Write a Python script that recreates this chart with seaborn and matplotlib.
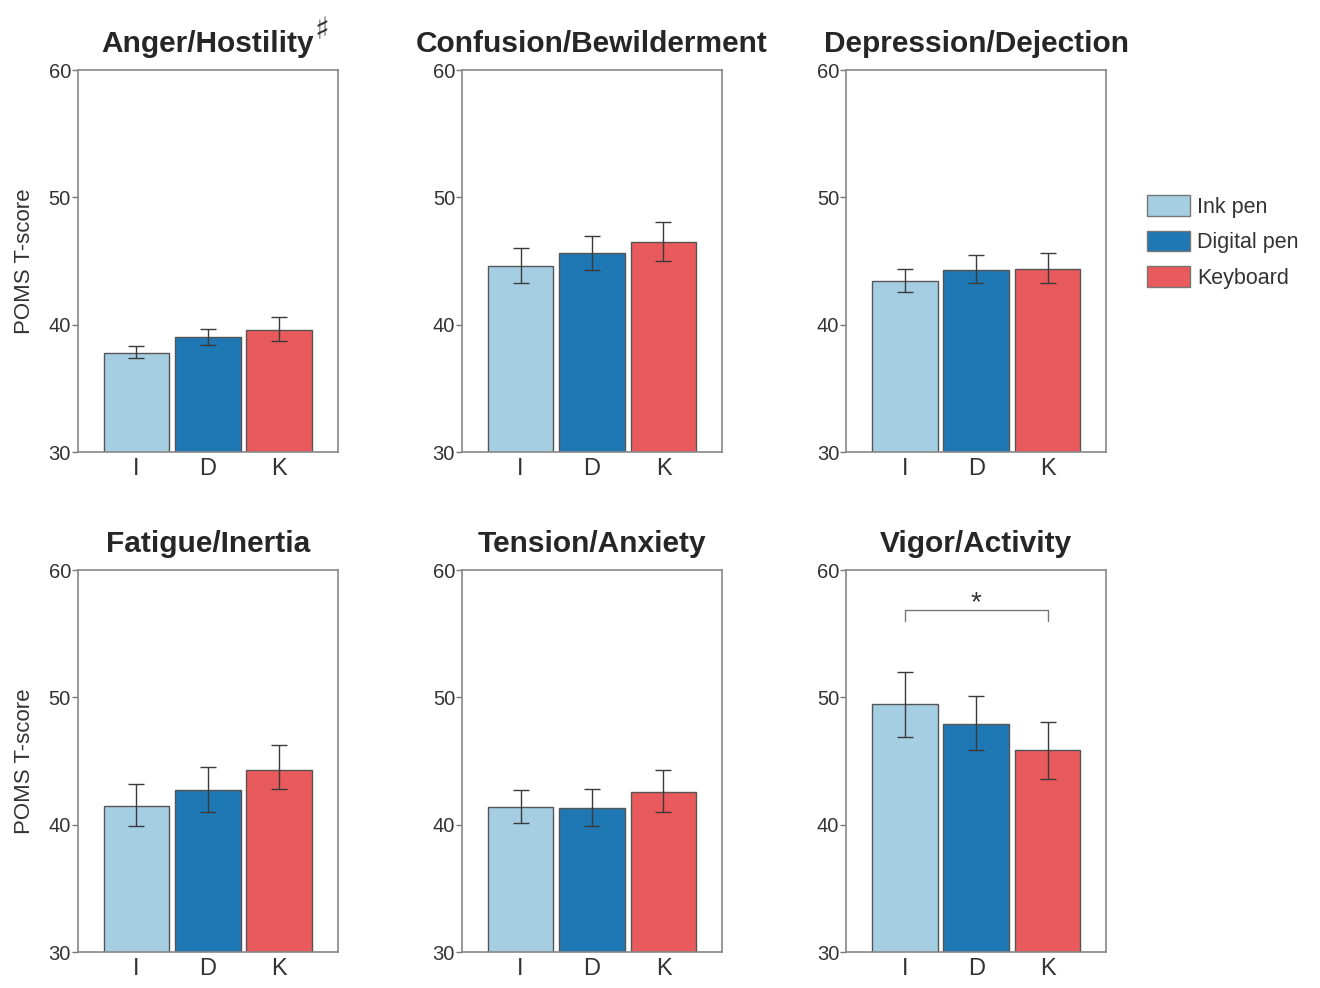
import numpy as np
import pandas as pd
import matplotlib
matplotlib.use("Agg")
import matplotlib.pyplot as plt
from matplotlib.patches import Patch
import seaborn as sns

# data (means and error bar ends)
scales = ["Anger/Hostility", "Confusion/Bewilderment", "Depression/Dejection",
          "Fatigue/Inertia", "Tension/Anxiety", "Vigor/Activity"]
conditions = ["I", "D", "K"]
legend_labels = ["Ink pen", "Digital pen", "Keyboard"]

means = {
    "Anger/Hostility": [37.8, 39.0, 39.6],
    "Confusion/Bewilderment": [44.6, 45.6, 46.5],
    "Depression/Dejection": [43.4, 44.3, 44.4],
    "Fatigue/Inertia": [41.5, 42.7, 44.3],
    "Tension/Anxiety": [41.4, 41.3, 42.6],
    "Vigor/Activity": [49.5, 47.9, 45.9],
}
err_lo = {
    "Anger/Hostility": [37.4, 38.4, 38.7],
    "Confusion/Bewilderment": [43.3, 44.3, 45.0],
    "Depression/Dejection": [42.6, 43.3, 43.3],
    "Fatigue/Inertia": [39.9, 41.0, 42.8],
    "Tension/Anxiety": [40.1, 39.9, 41.0],
    "Vigor/Activity": [46.9, 45.9, 43.6],
}
err_hi = {
    "Anger/Hostility": [38.3, 39.7, 40.6],
    "Confusion/Bewilderment": [46.0, 47.0, 48.1],
    "Depression/Dejection": [44.4, 45.5, 45.6],
    "Fatigue/Inertia": [43.2, 44.5, 46.3],
    "Tension/Anxiety": [42.7, 42.8, 44.3],
    "Vigor/Activity": [52.0, 50.1, 48.1],
}
marks = {"Anger/Hostility": "\u266f"}
sig_level = 56.9

colors = ["#a6cee3", "#1f78b4", "#e85a5b"]

sns.set_style("white")
plt.rcParams["font.family"] = ["Liberation Sans", "DejaVu Sans"]

fig = plt.figure(figsize=(13.2, 9.88), dpi=100)
fig.patch.set_facecolor("white")

lefts = [0.059, 0.350, 0.641]
bottoms = [0.5425, 0.0364]
w, h = 0.197, 0.3866

for i, sc in enumerate(scales):
    r, c = divmod(i, 3)
    ax = fig.add_axes([lefts[c], bottoms[r], w, h])
    df = pd.DataFrame({"cond": conditions, "score": means[sc]})
    sns.barplot(data=df, x="cond", y="score", hue="cond", palette=colors,
                order=conditions, errorbar=None, width=0.92, legend=False,
                saturation=1, edgecolor="#555555", linewidth=1.0, ax=ax)
    m = np.array(means[sc])
    lo = m - np.array(err_lo[sc])
    hi = np.array(err_hi[sc]) - m
    ax.errorbar(np.arange(3), m, yerr=[lo, hi], fmt="none", ecolor="#3a3a3a",
                elinewidth=1.0, capsize=6, capthick=1.0)
    ax.set_ylim(30, 60)
    ax.set_xlim(-0.82, 2.82)
    ax.set_yticks([30, 40, 50, 60])
    ax.set_xlabel("")
    ax.set_ylabel("POMS T-score" if c == 0 else "", fontsize=16, color="#333333",
                  labelpad=10)
    ax.tick_params(axis="y", left=True, length=4, width=1, color="#777777",
                   labelsize=14.5, labelcolor="#333333", pad=1)
    ax.tick_params(axis="x", bottom=False, labelsize=17, labelcolor="#333333", pad=1)
    for s in ax.spines.values():
        s.set_color("#888888")
        s.set_linewidth(1.2)
    t = ax.set_title(sc, fontsize=21.5, fontweight="bold", pad=13)
    if sc in marks:
        ax.annotate(marks[sc], xy=(1.0, 0.45), xycoords=t, xytext=(0, 0),
                    textcoords="offset points", ha="left", va="bottom",
                    fontsize=22, color="#333333", family="DejaVu Sans")
    if sc == "Vigor/Activity":
        ax.plot([0, 0, 2, 2], [sig_level - 0.9, sig_level, sig_level, sig_level - 0.9],
                color="#777777", lw=1.0)
        ax.text(1, sig_level - 0.5, "*", ha="center", va="bottom", fontsize=20,
                color="#333333")

handles = [Patch(facecolor=col, edgecolor="#777777", label=lab)
           for col, lab in zip(colors, legend_labels)]
fig.legend(handles=handles, loc="upper left", bbox_to_anchor=(0.854, 0.822),
           frameon=False, fontsize=15.5, handlelength=2.0, handleheight=1.1,
           handletextpad=0.35, labelspacing=0.6, labelcolor="#333333")

fig.savefig("out.png", dpi=100)
